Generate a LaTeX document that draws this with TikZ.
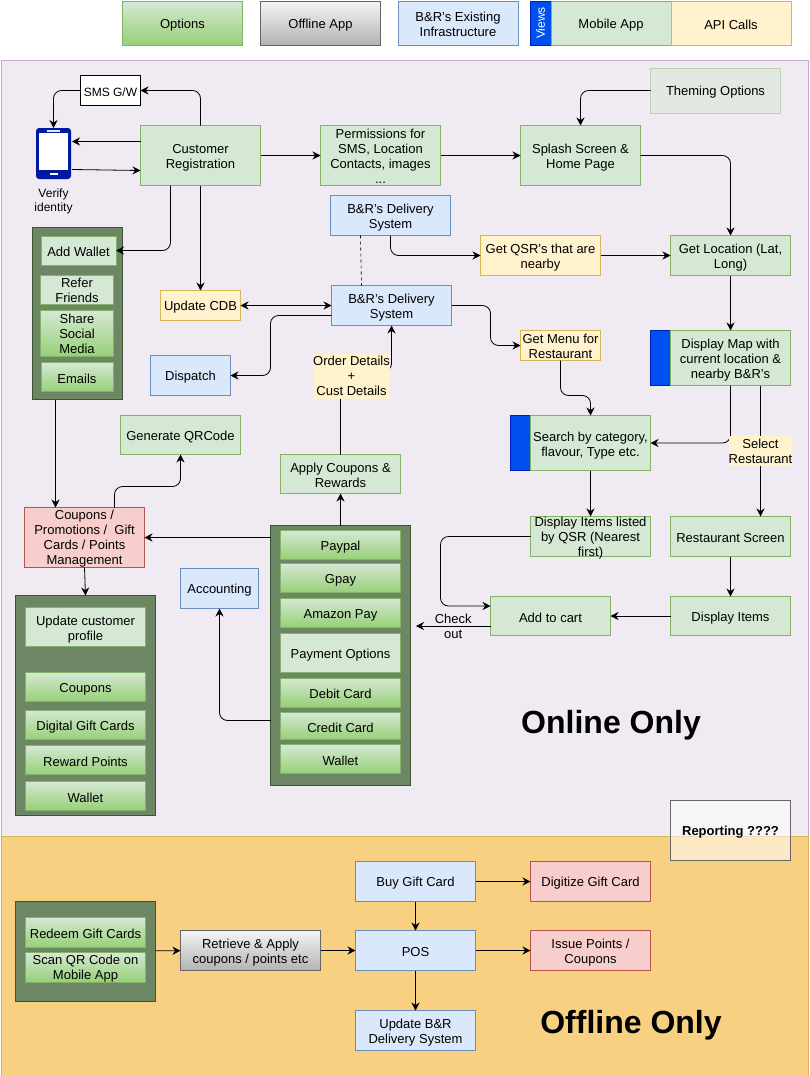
\documentclass[tikz,border=0pt]{standalone}
\usepackage{fontspec}
\usepackage{xcolor}
\usepackage{tikz}
\usetikzlibrary{arrows.meta}
\setmainfont[Ligatures=NoCommon]{Liberation Sans}
\definecolor{greenfill}{HTML}{D5E8D4}
\definecolor{greenline}{HTML}{82B366}
\definecolor{greenlow}{HTML}{97D077}
\definecolor{yellowfill}{HTML}{FFF2CC}
\definecolor{yellowline}{HTML}{D6B656}
\definecolor{bluefill}{HTML}{DAE8FC}
\definecolor{blueline}{HTML}{6C8EBF}
\definecolor{redfill}{HTML}{F8CECC}
\definecolor{redline}{HTML}{B85450}
\definecolor{stripfill}{HTML}{0050EF}
\definecolor{stripline}{HTML}{001DBC}
\definecolor{groupfill}{HTML}{6D8764}
\definecolor{groupline}{HTML}{3A5431}
\definecolor{onlinefill}{HTML}{F0EAF3}
\definecolor{onlineline}{HTML}{C3ABD0}
\definecolor{offlinefill}{HTML}{F7D081}
\definecolor{offlineline}{HTML}{D6B656}
\tikzset{
    shapebox/.style={rectangle, inner sep=0pt, outer sep=0pt, align=center, line width=0.9pt,
        font=\fontsize{13}{15}\selectfont},
    textat/.style={execute at begin node={\rule{0pt}{#1pt}}},
    basebox/.style={shapebox, textat=13},
    wh/.style 2 args={minimum width=#1pt, minimum height=#2pt},
    mobilebox/.style={basebox, draw=greenline, fill=greenfill},
    apibox/.style={basebox, draw=yellowline, fill=yellowfill},
    infrabox/.style={basebox, draw=blueline, fill=bluefill},
    alertbox/.style={basebox, draw=redline, fill=redfill},
    optionbox/.style={basebox, draw=greenline, top color=greenfill, bottom color=greenlow},
    greybox/.style={basebox, draw=black!60, top color=black!4, bottom color=black!30},
    stripbox/.style={shapebox, draw=stripline, fill=stripfill, text=white},
    groupbox/.style={shapebox, draw=groupline, fill=groupfill},
    notelabel/.style={basebox, fill=yellowfill},
    bigtitle/.style={font=\fontsize{32}{36}\selectfont\bfseries}
}
\begin{document}
\begin{tikzpicture}[x=1pt, y=-1pt, >={Stealth[length=8pt,width=8pt]}, line width=0.8pt]
    \useasboundingbox (0,0) rectangle (809,1076);
    \node [shapebox, wh={807}{776}, draw=onlineline, fill=onlinefill] (onlinepanel) at (404.5,448) {};
    \node [shapebox, wh={807}{240}, draw=offlineline, fill=offlinefill] (offlinepanel) at (404.5,956) {};
    % legend
    \node [optionbox, wh={120}{44}] (legoptions) at (182.5,23) {Options};
    \node [greybox, wh={120}{44}] (legoffline) at (320.5,23) {Offline App};
    \node [infrabox, wh={120}{44}, textat=26.5] (leginfra) at (458,23) {B\&R's Existing\\Infrastructure};
    \node [stripbox, wh={21}{44}] (legviews) at (540.5,23) {};
    \node [text=white, rotate=90, inner sep=0pt, font=\fontsize{12}{14}\selectfont] (legviewstext) at (legviews) {Views};
    \node [mobilebox, wh={120}{44}] (legmobile) at (611,23) {Mobile App};
    \node [apibox, wh={120}{44}] (legapi) at (731,23) {API Calls};
    % phone
    \node [shapebox, wh={35}{51}, fill=stripline!85!black, rounded corners=3pt] (phone) at (53.5,153.5) {};
    \node [shapebox, wh={29}{37}, fill=white] (phonescreen) at (53.5,151.5) {};
    \node [shapebox, wh={13}{2}, fill=bluefill] (phonespeaker) at (53.5,131) {};
    \node [shapebox, wh={8}{2}, fill=white] (phonebutton) at (53.5,174) {};
    \node [basebox, textat=27, font=\fontsize{12}{14}\selectfont] (verify) at (53.5,199) {Verify\\identity};
    % top row
    \node [basebox, wh={60}{30}, draw=black, fill=white, font=\fontsize{12}{14}\selectfont] (smsgw) at (110.5,90.5) {SMS G/W};
    \node [mobilebox, wh={120}{60}, textat=28.5] (custreg) at (200.5,155.5) {Customer\\Registration};
    \node [mobilebox, wh={120}{60}, textat=56.5] (permissions) at (380.5,155.5) {Permissions for\\SMS, Location\\Contacts, images\\...};
    \node [mobilebox, wh={120}{60}, textat=28.5] (splash) at (580.5,155.5) {Splash Screen \&\\Home Page};
    \node [mobilebox, wh={130}{45}, draw=greenline!45!onlinefill, fill=greenfill!45!onlinefill!80!greenfill] (theming) at (715.5,90.5) {Theming Options};
    % wallet group
    \node [groupbox, wh={90}{172}] (walletgroup) at (77,313.5) {};
    \node [mobilebox, wh={75}{29}] (addwallet) at (78.5,250.5) {Add Wallet};
    \node [mobilebox, wh={73}{29}, textat=26] (refer) at (77,290) {Refer\\Friends};
    \node [optionbox, wh={73}{46}] (share) at (77,333.5) {Share\\Social\\Media};
    \node [optionbox, wh={72}{29}] (emails) at (77,377) {Emails};
    % middle
    \node [infrabox, wh={120}{40}, textat=28.5] (deliveryone) at (390.5,215.5) {B\&R's Delivery\\System};
    \node [infrabox, wh={120}{40}, textat=28.5] (deliverytwo) at (391.5,305.5) {B\&R's Delivery\\System};
    \node [apibox, wh={120}{40}, textat=28.5] (getqsr) at (540.5,255.5) {Get QSR's that are\\nearby};
    \node [mobilebox, wh={120}{40}, textat=28.5] (getloc) at (730.5,255.5) {Get Location (Lat,\\Long)};
    \node [apibox, wh={80}{30}] (updatecdb) at (200.5,305.5) {Update CDB};
    \node [infrabox, wh={80}{40}] (dispatch) at (190.5,375.5) {Dispatch};
    \node [apibox, wh={80}{30}, textat=26.5] (getmenu) at (560.5,345.5) {Get Menu for\\Restaurant};
    \node [stripbox, wh={20}{55}] (mapstrip) at (660.5,358) {};
    \node [mobilebox, wh={120}{55}, textat=43.5] (showmap) at (730.5,358) {Display Map with\\current location \&\\nearby B\&R's};
    \node [stripbox, wh={20}{55}] (searchstrip) at (520.5,443) {};
    \node [mobilebox, wh={120}{55}, textat=29] (search) at (590.5,443) {Search by category,\\flavour, Type etc.};
    \node [mobilebox, wh={120}{39}] (qrcode) at (180.5,435) {Generate QRCode};
    \node [mobilebox, wh={120}{39}, textat=28] (applycoupons) at (340.5,474) {Apply Coupons \&\\Rewards};
    \node [alertbox, wh={120}{60}, textat=57] (coupons) at (84.5,537.5) {Coupons /\\Promotions / \ Gift\\Cards / Points\\Management};
    \node [infrabox, wh={78}{40}] (accounting) at (219.5,588.5) {Accounting};
    \node [shapebox, wh={120}{40}, draw=greenline, fill=greenfill] (itemlist) at (590.5,536.5) {};
    \node [shapebox] (itemlisttext) at (590.5,538) {Display Items listed\\by QSR (Nearest\\first)};
    \node [mobilebox, wh={120}{40}] (restscreen) at (730.5,536.5) {Restaurant Screen};
    \node [mobilebox, wh={120}{39}] (addcart) at (550.5,616) {Add to cart};
    \node [mobilebox, wh={120}{39}] (showitems) at (730.5,616) {Display Items};
    % payment group
    \node [groupbox, wh={140}{260}] (paygroup) at (340.5,655.5) {};
    \node [optionbox, wh={120}{29}] (paypal) at (340.5,545) {Paypal};
    \node [optionbox, wh={120}{29}] (gpay) at (340.5,578) {Gpay};
    \node [optionbox, wh={120}{29}] (amazon) at (340.5,613) {Amazon Pay};
    \node [mobilebox, wh={120}{39}] (payoptions) at (340.5,653) {Payment Options};
    \node [optionbox, wh={120}{29}] (debit) at (340.5,692.5) {Debit Card};
    \node [optionbox, wh={120}{27}] (credit) at (340.5,726) {Credit Card};
    \node [optionbox, wh={120}{29}] (paywallet) at (340.5,759) {Wallet};
    % profile group
    \node [groupbox, wh={140}{220}] (profilegroup) at (85.5,705.5) {};
    \node [mobilebox, wh={120}{39}, textat=29.5] (updateprofile) at (85.5,627) {Update customer\\profile};
    \node [optionbox, wh={120}{29}] (profcoupons) at (85.5,687) {Coupons};
    \node [optionbox, wh={120}{29}] (digital) at (85.5,725) {Digital Gift Cards};
    \node [optionbox, wh={120}{29}] (reward) at (85.5,760) {Reward Points};
    \node [optionbox, wh={120}{29}] (profwallet) at (85.5,796) {Wallet};
    % offline part
    \node [groupbox, wh={140}{100}] (redeemgroup) at (85.5,951) {};
    \node [optionbox, wh={120}{30}] (redeem) at (85.5,932.5) {Redeem Gift Cards};
    \node [optionbox, wh={120}{30}, textat=27] (scan) at (85.5,967) {Scan QR Code on\\Mobile App};
    \node [greybox, wh={140}{40}, textat=28.5] (retrieve) at (250.5,950.5) {Retrieve \& Apply\\coupons / points etc};
    \node [infrabox, wh={120}{40}] (buygift) at (415.5,881.5) {Buy Gift Card};
    \node [infrabox, wh={120}{40}] (pos) at (415.5,950.5) {POS};
    \node [infrabox, wh={120}{40}, textat=28.5] (updatebr) at (415.5,1030.5) {Update B\&R\\Delivery System};
    \node [alertbox, wh={120}{40}] (digitize) at (590.5,881.5) {Digitize Gift Card};
    \node [alertbox, wh={120}{40}, textat=28.5] (issue) at (590.5,950.5) {Issue Points /\\Coupons};
    \node [basebox, wh={120}{60}, draw=black!60, fill=white, fill opacity=0.55, text opacity=1, font=\fontsize{13}{15}\selectfont\bfseries] (reporting) at (730.5,830.5) {Reporting ????};
    \node [bigtitle, inner sep=0pt] (onlinetitle) at (611,725.5) {Online Only};
    \node [bigtitle, inner sep=0pt] (offlinetitle) at (631,1025.5) {Offline Only};
    \coordinate (checkend) at (416,626);
    % connectors
    \draw [->, rounded corners=8pt] (custreg.north) |- (smsgw.east);
    \draw [->, rounded corners=8pt] (smsgw.west) -| (phone.north);
    \draw [->] ([yshift=14pt]custreg.west) -- ([xshift=1pt,yshift=12pt]phone.east);
    \draw [->] ([xshift=1pt,yshift=-16pt]phone.east) -- ([yshift=-15pt]custreg.west);
    \draw [->] (custreg) -- (permissions);
    \draw [->] (permissions) -- (splash);
    \draw [->, rounded corners=8pt] (theming.west) -| (splash.north);
    \draw [->, rounded corners=8pt] (splash.east) -| (getloc.north);
    \draw [->, rounded corners=8pt] ([xshift=-30pt]custreg.south) |- (addwallet.east);
    \draw [->] (custreg.south) -- (updatecdb.north);
    \draw [dashed, line width=0.6pt] ([xshift=-30pt]deliveryone.south) -- ([xshift=-30pt]deliverytwo.north);
    \draw [->, rounded corners=8pt] (deliveryone.south) |- (getqsr.west);
    \draw [->] (getqsr) -- (getloc);
    \draw [<->] (updatecdb) -- (deliverytwo);
    \draw [->, rounded corners=8pt] ([yshift=-10pt]deliverytwo.west) -- ++(-61,0) |- (dispatch.east);
    \draw [->, rounded corners=8pt] (deliverytwo.east) -- ++(39,0) |- (getmenu.west);
    \draw [->] (getloc) -- (showmap);
    \draw [->, rounded corners=8pt] (showmap.south) |- (search.east);
    \draw [->] ([xshift=30pt]showmap.south) -- ([xshift=30pt]restscreen.north);
    \draw [->, rounded corners=8pt] (getmenu.south) -- ++(0,35) -| (search.north);
    \draw [->] (search) -- (itemlist);
    \draw [->] (restscreen) -- (showitems);
    \draw [->] (showitems) -- (addcart);
    \draw [->, rounded corners=8pt] (itemlist.west) -- ++(-90,0) |- ([yshift=10pt]addcart.west);
    \draw [->] ([yshift=-10pt]addcart.west) -- node [basebox] (checkout) {Check\\out} (checkend);
    \draw [->] (paygroup.north) -- (applycoupons.south);
    \draw [->, rounded corners=8pt] (applycoupons.north) -- ++(0,-83) -| (deliverytwo.south);
    \draw [->] (paygroup.west |- coupons.east) -- (coupons.east);
    \draw [->, rounded corners=8pt] ([yshift=-65pt]paygroup.west) -| (accounting.south);
    \draw [->, rounded corners=8pt] ([xshift=30pt]coupons.north) -- ++(0,-21) -| (qrcode.south);
    \draw [->] (walletgroup.south -| coupons.north west) ++(31,0) -- ([xshift=-29pt]coupons.north);
    \draw [->] (coupons.south) -- (profilegroup.north);
    \draw [->] (redeemgroup) -- (retrieve);
    \draw [->] (retrieve) -- (pos);
    \draw [->] (buygift) -- (pos);
    \draw [->] (pos) -- (updatebr);
    \draw [->] (buygift) -- (digitize);
    \draw [->] (pos) -- (issue);
    % labels over the lines
    \node [notelabel, wh={63}{30}] (selectrest) at (760.5,451) {Select\\Restaurant};
    \node [notelabel, wh={76}{45}] (orderdetails) at (351.5,376) {Order Details\\+\\Cust Details};
\end{tikzpicture}
\end{document}
